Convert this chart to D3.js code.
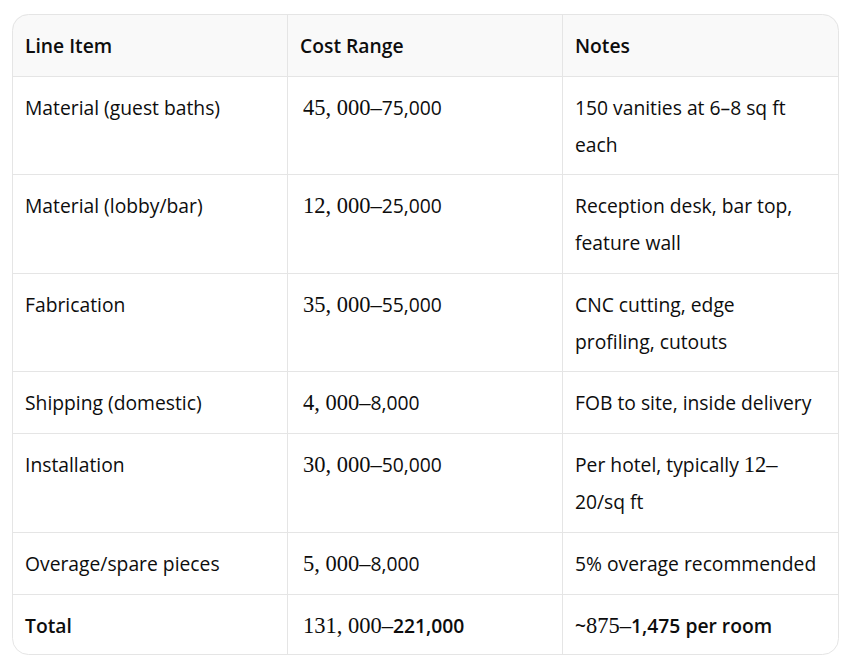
<!DOCTYPE html>
<html><head><meta charset="utf-8">
<script src="https://cdn.jsdelivr.net/npm/d3@7"></script>
<style>body{margin:0;background:#fff}</style></head>
<body><svg id="c" width="861" height="663"></svg>
<script>
const headers = ["Line Item","Cost Range","Notes"];
const lineItems = ["Material (guest baths)","Material (lobby/bar)","Fabrication","Shipping (domestic)","Installation","Overage/spare pieces","Total"];
const costLow = ["45, 000–","12, 000–","35, 000–","4, 000–","30, 000–","5, 000–","131, 000–"];
const costHigh = ["75,000","25,000","55,000","8,000","50,000","8,000","221,000"];
// notes: each line is a list of [text, style] segments; style: s=sans, m=math serif, b=bold
const notes = [
  [[["150 vanities at 6–8 sq ft","s"]],[["each","s"]]],
  [[["Reception desk, bar top,","s"]],[["feature wall","s"]]],
  [[["CNC cutting, edge","s"]],[["profiling, cutouts","s"]]],
  [[["FOB to site, inside delivery","s"]]],
  [[["Per hotel, typically ","s"],["12–","m"]],[["20/sq ft","s"]]],
  [[["5% overage recommended","s"]]],
  [[["~","b"],["875–","m"],["1,475 per room","b"]]]
];
const rowBounds = [14,76,174,273,371,433,532,594,655];
const colBounds = [12,287,562,839];

const svg = d3.select("#c");
const x0=colBounds[0], x1=colBounds[3], y0=rowBounds[0], y1=rowBounds[rowBounds.length-1];
const clip = svg.append("defs").append("clipPath").attr("id","cl");
clip.append("rect").attr("x",x0).attr("y",y0).attr("width",x1-x0).attr("height",y1-y0).attr("rx",16);
const g = svg.append("g").attr("clip-path","url(#cl)");
g.append("rect").attr("x",x0).attr("y",y0).attr("width",x1-x0).attr("height",rowBounds[1]-y0).attr("fill","#f9f9f9");
const bc="#e5e5e5";
g.selectAll("line.h").data(rowBounds.slice(1,-1)).join("line")
  .attr("x1",x0).attr("x2",x1).attr("y1",d=>d+0.5).attr("y2",d=>d+0.5).attr("stroke",bc);
g.selectAll("line.v").data(colBounds.slice(1,-1)).join("line")
  .attr("y1",y0).attr("y2",y1).attr("x1",d=>d+0.5).attr("x2",d=>d+0.5).attr("stroke",bc);
svg.append("rect").attr("x",x0+0.5).attr("y",y0+0.5).attr("width",x1-x0-1).attr("height",y1-y0-1)
  .attr("rx",16).attr("fill","none").attr("stroke",bc);

const sans="'Open Sans','Noto Sans',sans-serif", serif="'Liberation Serif','DejaVu Serif',serif";
const col="#0d0d0d", fs=19.3;
function seg(t, list, extraBold){
  list.forEach(([txt,st])=>{
    const sp=t.append("tspan").text(txt).attr("xml:space","preserve");
    if(st==="m") sp.attr("font-family",serif).attr("font-size",22.5).attr("font-weight",400);
    else sp.attr("font-family",sans).attr("font-size",fs).attr("font-weight",(st==="b"||extraBold)?600:400);
  });
}
const padX=13;
headers.forEach((h,i)=>{
  svg.append("text").attr("x",colBounds[i]+padX).attr("y",rowBounds[0]+39)
    .attr("fill",col).attr("font-family",sans).attr("font-size",fs).attr("font-weight",600).text(h);
});
lineItems.forEach((li,r)=>{
  const top=rowBounds[r+1], base=top+39, bold=(r===lineItems.length-1);
  svg.append("text").attr("x",colBounds[0]+padX).attr("y",base).attr("fill",col)
    .attr("font-family",sans).attr("font-size",fs).attr("font-weight",bold?600:400).text(li);
  const t=svg.append("text").attr("x",colBounds[1]+padX+3).attr("y",base).attr("fill",col).style("white-space","pre");
  seg(t,[[costLow[r],"m"],[costHigh[r],bold?"b":"s"]]);
  notes[r].forEach((ln,k)=>{
    const tt=svg.append("text").attr("x",colBounds[2]+padX).attr("y",base+k*37).attr("fill",col).style("white-space","pre");
    seg(tt,ln);
  });
});
</script></body></html>
